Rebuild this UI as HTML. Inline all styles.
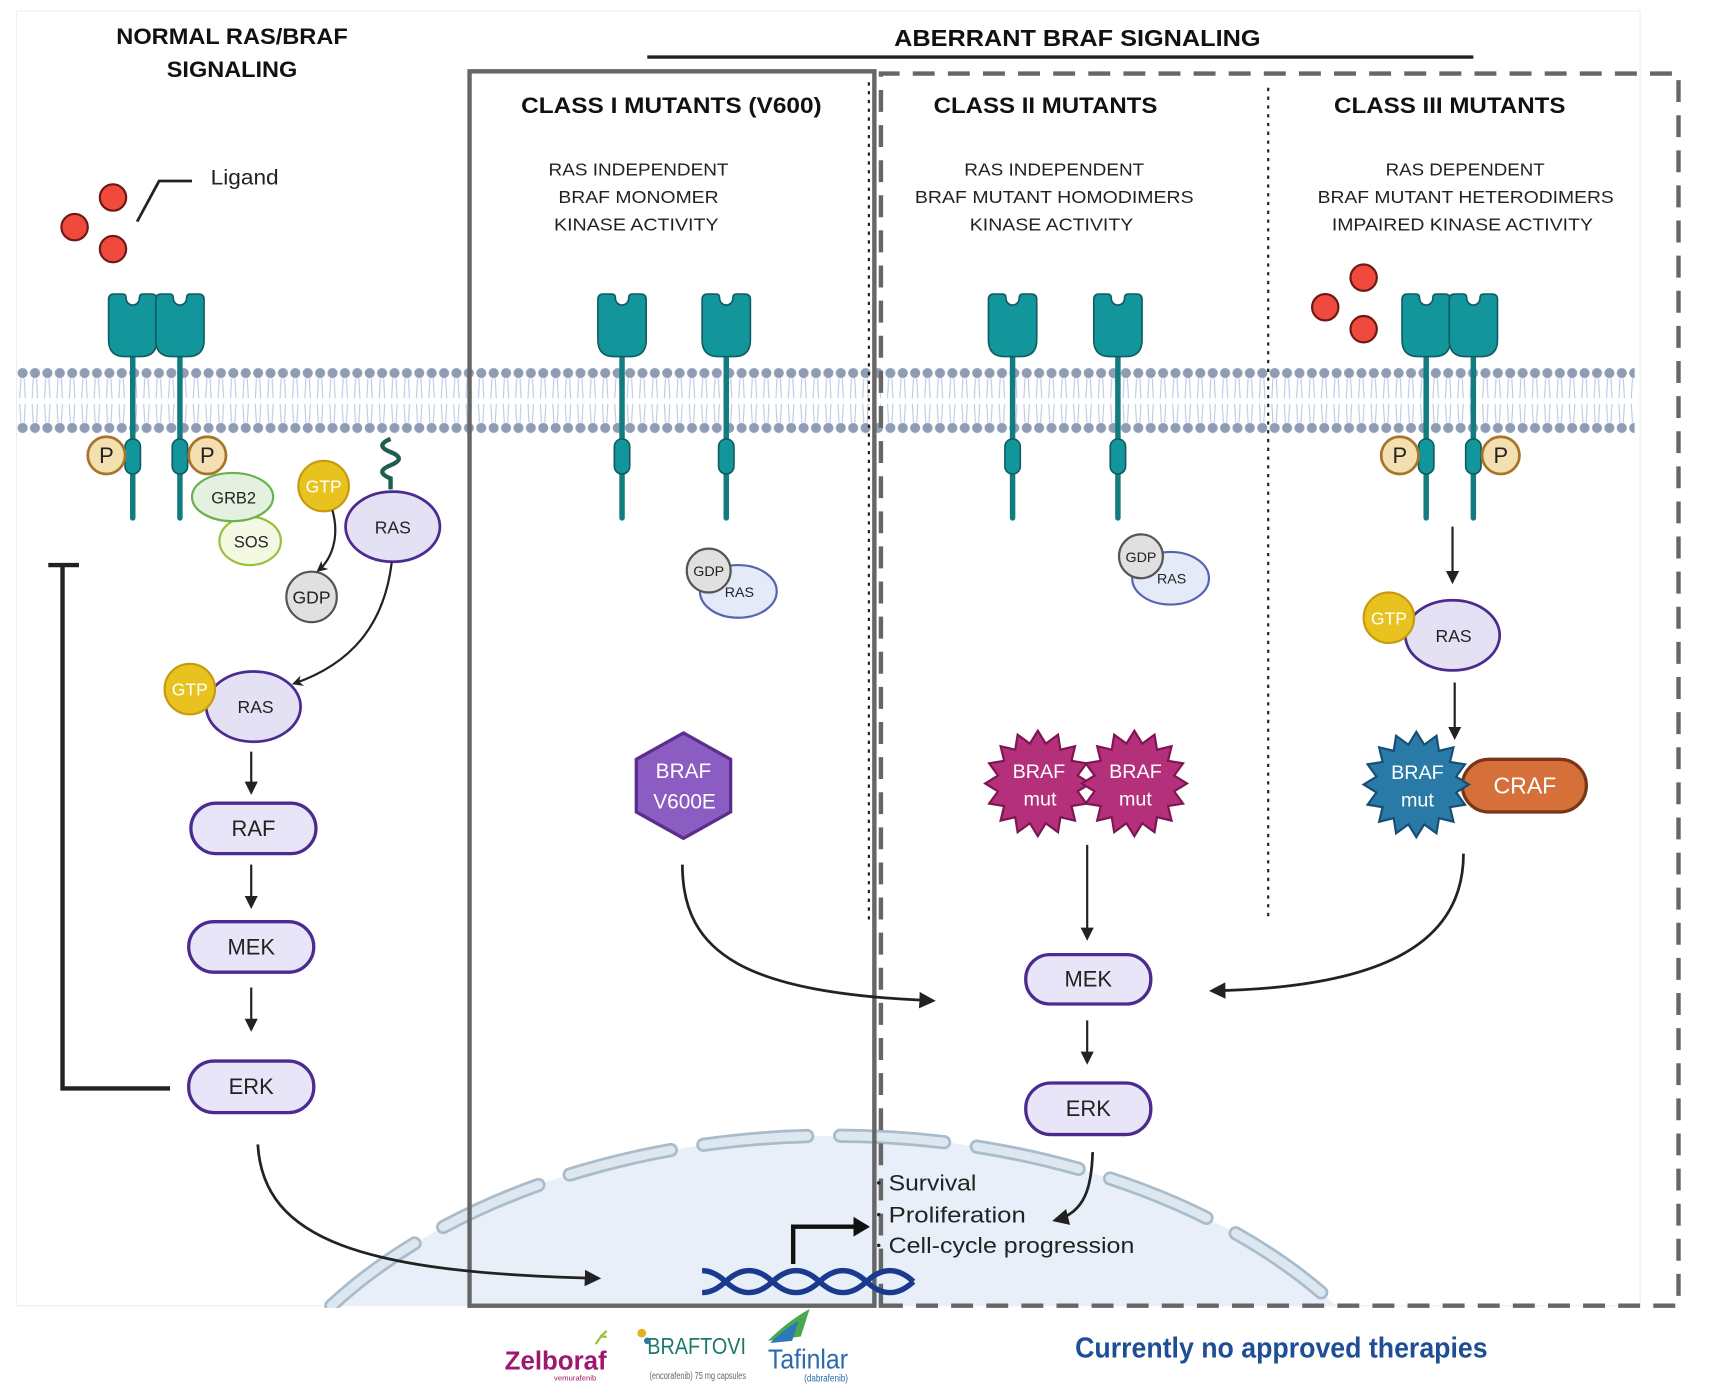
<!DOCTYPE html>
<html><head><meta charset="utf-8"><style>
html,body{margin:0;padding:0;background:#fff;overflow:hidden;width:1718px;height:1399px}
svg{display:block}
text{font-family:"Liberation Sans",sans-serif}
.n{font-family:"Liberation Sans Narrow","Liberation Sans",sans-serif}
</style></head><body>
<svg width="1718" height="1399" viewBox="0 0 1566 1275" preserveAspectRatio="none" xmlns="http://www.w3.org/2000/svg">
<defs>
<marker id="ah" viewBox="0 0 10 10" refX="8" refY="5" markerWidth="6" markerHeight="6" orient="auto"><path d="M0,0 L10,5 L0,10 z" fill="#222"/></marker>
<marker id="ahb" viewBox="0 0 10 10" refX="8" refY="5" markerWidth="5" markerHeight="5" orient="auto"><path d="M0,0 L10,5 L0,10 L3,5 z" fill="#222"/></marker>
<pattern id="mem" patternUnits="userSpaceOnUse" x="15" y="333" width="11.3" height="65">
<line x1="4" y1="12" x2="3" y2="30" stroke="#b9c9e2" stroke-width="1"/>
<line x1="7" y1="12" x2="8" y2="30" stroke="#b9c9e2" stroke-width="1"/>
<line x1="3" y1="35" x2="4" y2="52" stroke="#b9c9e2" stroke-width="1"/>
<line x1="8" y1="35" x2="7" y2="52" stroke="#b9c9e2" stroke-width="1"/>
<circle cx="5.6" cy="7" r="4.6" fill="#8e9db4"/>
<circle cx="5.6" cy="57" r="4.6" fill="#8e9db4"/>
</pattern>
<g id="rec">
<line x1="0" y1="320" x2="0" y2="472" stroke="#137c80" stroke-width="5" stroke-linecap="round"/>
<rect x="-7" y="400" width="14" height="32" rx="7" fill="#12959b" stroke="#0f5d60" stroke-width="1.5"/>
<path d="M-22,273 q0,-5 5,-5 h8 q3,0 3,4 a6 6 0 0 0 12 0 q0,-4 3,-4 h8 q5,0 5,5 v37 q0,15 -15,15 h-14 q-15,0 -15,-15 z" fill="#12959b" stroke="#0f5d60" stroke-width="1.5"/>
</g>
<polygon id="star" points="48,0 36.3,7.2 44.4,18.4 30.7,20.6 33.9,33.9 20.6,30.7 18.4,44.4 7.2,36.3 0,48 -7.2,36.3 -18.4,44.4 -20.6,30.7 -33.9,33.9 -30.7,20.6 -44.4,18.4 -36.3,7.2 -48,0 -36.3,-7.2 -44.4,-18.4 -30.7,-20.6 -33.9,-33.9 -20.6,-30.7 -18.4,-44.4 -7.2,-36.3 0,-48 7.2,-36.3 18.4,-44.4 20.6,-30.7 33.9,-33.9 30.7,-20.6 44.4,-18.4 36.3,-7.2"/>
</defs>

<rect x="15" y="10" width="1480" height="1180" fill="none" stroke="#eee" stroke-width="1"/>

<path d="M302,1190 A560,365 0 0 1 1218,1190 Z" fill="#e8eff8"/>
<path d="M302,1190 A560,365 0 0 1 1218,1190" fill="none" stroke="#a9bccb" stroke-width="13" stroke-dasharray="95 30" stroke-linecap="round"/>
<path d="M302,1190 A560,365 0 0 1 1218,1190" fill="none" stroke="#dde7f0" stroke-width="8" stroke-dasharray="95 30" stroke-linecap="round"/>
<rect x="280" y="1192" width="960" height="12" fill="#fff"/>

<rect x="15" y="333" width="1475" height="65" fill="url(#mem)"/>

<text x="106" y="40" font-size="20" font-weight="bold" class="n" fill="#111" textLength="211" lengthAdjust="spacingAndGlyphs">NORMAL RAS/BRAF</text>
<text x="152" y="70" font-size="20" font-weight="bold" class="n" fill="#111" textLength="119" lengthAdjust="spacingAndGlyphs">SIGNALING</text>
<text x="815" y="42" font-size="21" font-weight="bold" class="n" fill="#111" textLength="334" lengthAdjust="spacingAndGlyphs">ABERRANT BRAF SIGNALING</text>
<line x1="590" y1="52" x2="1343" y2="52" stroke="#222" stroke-width="3"/>

<rect x="428" y="65" width="369" height="1125" fill="none" stroke="#666" stroke-width="4"/>
<path d="M803,1190 V67 H1530 V1190 Z" fill="none" stroke="#666" stroke-width="4" stroke-dasharray="20 12"/>
<line x1="792" y1="75" x2="792" y2="840" stroke="#222" stroke-width="2" stroke-dasharray="3 5"/>
<line x1="1156" y1="80" x2="1156" y2="840" stroke="#222" stroke-width="2" stroke-dasharray="3 5"/>

<text x="475" y="103" font-size="20" font-weight="bold" class="n" fill="#111" textLength="274" lengthAdjust="spacingAndGlyphs">CLASS I MUTANTS (V600)</text>
<text x="851" y="103" font-size="20" font-weight="bold" class="n" fill="#111" textLength="204" lengthAdjust="spacingAndGlyphs">CLASS II MUTANTS</text>
<text x="1216" y="103" font-size="20" font-weight="bold" class="n" fill="#111" textLength="211" lengthAdjust="spacingAndGlyphs">CLASS III MUTANTS</text>
<g font-size="16" class="n" fill="#222">
<text x="500" y="160" textLength="164" lengthAdjust="spacingAndGlyphs">RAS INDEPENDENT</text>
<text x="509" y="185" textLength="146" lengthAdjust="spacingAndGlyphs">BRAF MONOMER</text>
<text x="505" y="210" textLength="150" lengthAdjust="spacingAndGlyphs">KINASE ACTIVITY</text>
<text x="879" y="160" textLength="164" lengthAdjust="spacingAndGlyphs">RAS INDEPENDENT</text>
<text x="834" y="185" textLength="254" lengthAdjust="spacingAndGlyphs">BRAF MUTANT HOMODIMERS</text>
<text x="884" y="210" textLength="149" lengthAdjust="spacingAndGlyphs">KINASE ACTIVITY</text>
<text x="1263" y="160" textLength="145" lengthAdjust="spacingAndGlyphs">RAS DEPENDENT</text>
<text x="1201" y="185" textLength="270" lengthAdjust="spacingAndGlyphs">BRAF MUTANT HETERODIMERS</text>
<text x="1214" y="210" textLength="238" lengthAdjust="spacingAndGlyphs">IMPAIRED KINASE ACTIVITY</text>
</g>

<g fill="#f04a3e" stroke="#6b1a14" stroke-width="2">
<circle cx="103" cy="180" r="12"/><circle cx="68" cy="207" r="12"/><circle cx="103" cy="227" r="12"/>
<circle cx="1243" cy="253" r="12"/><circle cx="1208" cy="280" r="12"/><circle cx="1243" cy="300" r="12"/>
</g>
<polyline points="125,202 145,165 175,165" fill="none" stroke="#222" stroke-width="2.5"/>
<text x="192" y="168" font-size="19" class="n" fill="#222" textLength="62" lengthAdjust="spacingAndGlyphs">Ligand</text>

<use href="#rec" x="121"/><use href="#rec" x="164"/>
<use href="#rec" x="567"/><use href="#rec" x="662"/>
<use href="#rec" x="923"/><use href="#rec" x="1019"/>
<use href="#rec" x="1300"/><use href="#rec" x="1343"/>

<g fill="#f3dfb0" stroke="#a8742a" stroke-width="2.5">
<circle cx="97" cy="415" r="17"/><circle cx="189" cy="415" r="17"/>
<circle cx="1276" cy="415" r="17"/><circle cx="1368" cy="415" r="17"/>
</g>
<g font-size="20" class="n" fill="#222" text-anchor="middle">
<text x="97" y="422">P</text><text x="189" y="422">P</text><text x="1276" y="422">P</text><text x="1368" y="422">P</text>
</g>

<ellipse cx="228" cy="493" rx="28" ry="22" fill="#f4f9e4" stroke="#9bbf3a" stroke-width="2"/>
<ellipse cx="212" cy="453" rx="37" ry="22" fill="#e5f1e0" stroke="#6ab04c" stroke-width="2"/>
<text x="213" y="459" text-anchor="middle" font-size="15" class="n" fill="#222">GRB2</text>
<text x="229" y="499" text-anchor="middle" font-size="15" class="n" fill="#222">SOS</text>

<path d="M356,400 c-10,4 -10,8 0,12 c10,4 10,8 0,12 c-10,4 -10,8 0,12 v10" fill="none" stroke="#1f5e4f" stroke-width="4"/>
<ellipse cx="358" cy="480" rx="43" ry="32" fill="#e5e1f5" stroke="#4b2b8f" stroke-width="2.5"/>
<text x="358" y="486" text-anchor="middle" font-size="16" class="n" fill="#222">RAS</text>
<circle cx="295" cy="443" r="23" fill="#e8c21f" stroke="#c99a10" stroke-width="2"/>
<text x="295" y="449" text-anchor="middle" font-size="16" class="n" fill="#fff">GTP</text>
<circle cx="284" cy="544" r="23" fill="#e0e0e0" stroke="#555" stroke-width="2"/>
<text x="284" y="550" text-anchor="middle" font-size="16" class="n" fill="#222">GDP</text>
<path d="M303,465 C310,490 302,510 290,520" fill="none" stroke="#222" stroke-width="2" marker-end="url(#ahb)"/>
<path d="M357,513 C350,570 320,605 268,623" fill="none" stroke="#222" stroke-width="2" marker-end="url(#ahb)"/>

<ellipse cx="231" cy="644" rx="43" ry="32" fill="#e5e1f5" stroke="#4b2b8f" stroke-width="2.5"/>
<text x="233" y="650" text-anchor="middle" font-size="16" class="n" fill="#222">RAS</text>
<circle cx="173" cy="628" r="23" fill="#e8c21f" stroke="#c99a10" stroke-width="2"/>
<text x="173" y="634" text-anchor="middle" font-size="16" class="n" fill="#fff">GTP</text>

<g stroke="#222" stroke-width="2" marker-end="url(#ah)">
<line x1="229" y1="685" x2="229" y2="722"/>
<line x1="229" y1="788" x2="229" y2="826"/>
<line x1="229" y1="900" x2="229" y2="938"/>
</g>
<g fill="#e9e5f8" stroke="#4b2b8f" stroke-width="3">
<rect x="174" y="732" width="114" height="46" rx="23"/>
<rect x="172" y="840" width="114" height="46" rx="23"/>
<rect x="172" y="967" width="114" height="47" rx="23"/>
<rect x="935" y="870" width="114" height="45" rx="22"/>
<rect x="935" y="987" width="114" height="47" rx="23"/>
</g>
<g font-size="20" class="n" fill="#222" text-anchor="middle">
<text x="231" y="762">RAF</text><text x="229" y="870">MEK</text><text x="229" y="997">ERK</text>
<text x="992" y="899">MEK</text><text x="992" y="1017">ERK</text>
</g>
<polyline points="155,992 57,992 57,515" fill="none" stroke="#222" stroke-width="4"/>
<line x1="44" y1="515" x2="72" y2="515" stroke="#222" stroke-width="4"/>
<path d="M235,1043 C240,1130 330,1160 545,1165" fill="none" stroke="#222" stroke-width="2.5" marker-end="url(#ah)"/>

<path d="M640,1158 q10.7,0 21.4,10 t21.4,10 t21.4,-10 t21.4,-10 t21.4,10 t21.4,10 t21.4,-10 t21.4,-10 t21.4,10" fill="none" stroke="#1a3a8f" stroke-width="5"/>
<path d="M640,1178 q10.7,0 21.4,-10 t21.4,-10 t21.4,10 t21.4,10 t21.4,-10 t21.4,-10 t21.4,10 t21.4,10 t21.4,-10" fill="none" stroke="#1a3a8f" stroke-width="5"/>
<polyline points="723,1152 723,1118 780,1118" fill="none" stroke="#111" stroke-width="4"/>
<path d="M778,1109 L793,1118 L778,1127 z" fill="#111"/>
<g font-size="20" class="n" fill="#222">
<text x="810" y="1085" textLength="80" lengthAdjust="spacingAndGlyphs">Survival</text>
<text x="810" y="1114" textLength="125" lengthAdjust="spacingAndGlyphs">Proliferation</text>
<text x="810" y="1142" textLength="224" lengthAdjust="spacingAndGlyphs">Cell-cycle progression</text>
</g>
<g fill="#222"><circle cx="801" cy="1078" r="1.6"/><circle cx="801" cy="1107" r="1.6"/><circle cx="801" cy="1135" r="1.6"/></g>

<ellipse cx="673" cy="539" rx="35" ry="24" fill="#e4eaf8" stroke="#5664b0" stroke-width="2"/>
<circle cx="646" cy="520" r="20" fill="#e0e0e0" stroke="#555" stroke-width="2"/>
<text x="646" y="525" text-anchor="middle" font-size="13" class="n" fill="#222">GDP</text>
<text x="674" y="544" text-anchor="middle" font-size="13" class="n" fill="#222">RAS</text>
<polygon points="623,668 666,692 666,740 623,764 580,740 580,692" fill="#8b5cc2" stroke="#5a2e8c" stroke-width="3"/>
<text x="623" y="709" text-anchor="middle" font-size="19" class="n" fill="#fff">BRAF</text>
<text x="624" y="737" text-anchor="middle" font-size="19" class="n" fill="#fff">V600E</text>
<path d="M622,788 C622,870 680,905 850,912" fill="none" stroke="#222" stroke-width="2.5" marker-end="url(#ah)"/>

<ellipse cx="1067" cy="527" rx="35" ry="24" fill="#e4eaf8" stroke="#5664b0" stroke-width="2"/>
<circle cx="1040" cy="507" r="20" fill="#e0e0e0" stroke="#555" stroke-width="2"/>
<text x="1040" y="512" text-anchor="middle" font-size="13" class="n" fill="#222">GDP</text>
<text x="1068" y="532" text-anchor="middle" font-size="13" class="n" fill="#222">RAS</text>
<use href="#star" transform="translate(946,714)" fill="#b5307a" stroke="#7d1652" stroke-width="2"/>
<use href="#star" transform="translate(1034,714)" fill="#b5307a" stroke="#7d1652" stroke-width="2"/>
<g font-size="18" class="n" fill="#fff" text-anchor="middle">
<text x="947" y="709">BRAF</text><text x="948" y="734">mut</text>
<text x="1035" y="709">BRAF</text><text x="1035" y="734">mut</text>
</g>
<g stroke="#222" stroke-width="2" marker-end="url(#ah)">
<line x1="991" y1="770" x2="991" y2="855"/>
<line x1="991" y1="930" x2="991" y2="968"/>
<line x1="1324" y1="480" x2="1324" y2="530"/>
<line x1="1326" y1="622" x2="1326" y2="672"/>
</g>
<path d="M996,1050 C995,1080 990,1105 962,1112" fill="none" stroke="#222" stroke-width="2.5" marker-end="url(#ah)"/>

<ellipse cx="1324" cy="579" rx="43" ry="32" fill="#e5e1f5" stroke="#4b2b8f" stroke-width="2.5"/>
<text x="1325" y="585" text-anchor="middle" font-size="16" class="n" fill="#222">RAS</text>
<circle cx="1266" cy="563" r="23" fill="#e8c21f" stroke="#c99a10" stroke-width="2"/>
<text x="1266" y="569" text-anchor="middle" font-size="16" class="n" fill="#fff">GTP</text>
<rect x="1333" y="692" width="113" height="48" rx="24" fill="#d5703a" stroke="#7a3416" stroke-width="3"/>
<text x="1390" y="723" text-anchor="middle" font-size="21" class="n" fill="#fff">CRAF</text>
<use href="#star" transform="translate(1291,715)" fill="#2a7aa8" stroke="#174e74" stroke-width="2"/>
<text x="1292" y="710" text-anchor="middle" font-size="18" class="n" fill="#fff">BRAF</text>
<text x="1292" y="735" text-anchor="middle" font-size="18" class="n" fill="#fff">mut</text>
<path d="M1334,778 C1334,860 1260,900 1105,903" fill="none" stroke="#222" stroke-width="2.5" marker-end="url(#ah)"/>

<text x="460" y="1248" font-size="24" font-weight="bold" class="n" fill="#a0186e" textLength="93" lengthAdjust="spacingAndGlyphs">Zelboraf</text>
<text x="505" y="1258" font-size="7" class="n" fill="#a0186e">vemurafenib</text>
<path d="M543,1225 q5,-8 10,-12 m-6,4 q3,2 6,1" fill="none" stroke="#9bbf3a" stroke-width="2"/>
<text x="590" y="1234" font-size="21" class="n" fill="#1a7a6a" textLength="90" lengthAdjust="spacingAndGlyphs">BRAFTOVI</text>
<circle cx="585" cy="1215" r="4" fill="#e8b020"/><circle cx="590" cy="1222" r="3" fill="#2a7aa8"/>
<text x="592" y="1257" font-size="9" class="n" fill="#666" textLength="88" lengthAdjust="spacingAndGlyphs">(encorafenib) 75 mg capsules</text>
<path d="M700,1222 C712,1210 725,1200 738,1193 L730,1218 Z" fill="#4ca84c"/>
<path d="M702,1224 C712,1214 720,1208 728,1204 L722,1222 Z" fill="#2a7ab8"/>
<text x="700" y="1247" font-size="25" class="n" fill="#2a6ab0" textLength="73" lengthAdjust="spacingAndGlyphs">Tafinlar</text>
<text x="733" y="1259" font-size="9" class="n" fill="#2a6ab0" textLength="40" lengthAdjust="spacingAndGlyphs">(dabrafenib)</text>
<text x="980" y="1237" font-size="26" font-weight="bold" class="n" fill="#1d4e96" textLength="376" lengthAdjust="spacingAndGlyphs">Currently no approved therapies</text>
</svg>
</body></html>
